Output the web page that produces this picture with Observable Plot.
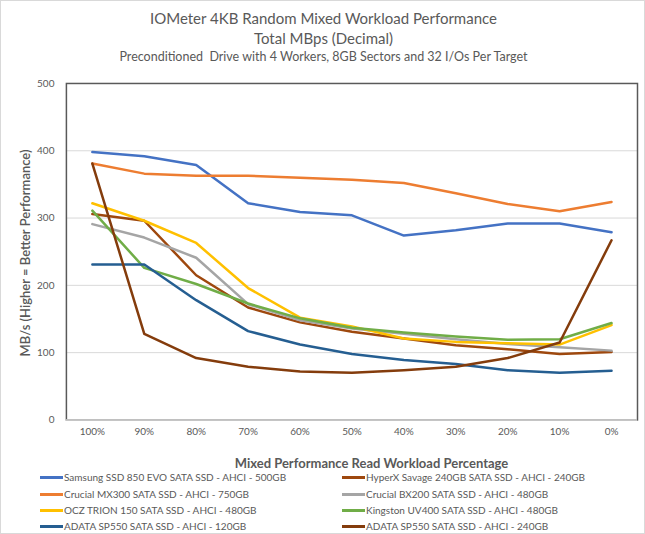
<!DOCTYPE html>
<html>
<head>
<meta charset="utf-8">
<script src="https://cdn.jsdelivr.net/npm/d3@7"></script>
<script src="https://cdn.jsdelivr.net/npm/@observablehq/plot@0.6"></script>
<style>
  html, body { margin: 0; padding: 0; background: #fff; }
  #chart { position: relative; width: 645px; height: 534px; box-sizing: border-box; border: 1px solid #D9D9D9; font-family: Lato, "Open Sans", sans-serif; color: #595959; overflow: hidden; }
  .t { position: absolute; left: 0; width: 645px; text-align: center; white-space: nowrap; }
  #plot { position: absolute; left: -1px; top: 65px; }
  .lg { position: absolute; font-size: 10px; white-space: nowrap; line-height: 12px; }
  .sw { position: absolute; height: 3px; width: 23px; }
  #ytitle { position: absolute; left: 24px; top: 252px; transform: translate(-50%, -50%) rotate(-90deg); font-size: 13px; font-weight: 600; white-space: nowrap; }
</style>
</head>
<body>
<div id="chart">
  <div class="t" style="top:8px; font-size:15px;">IOMeter 4KB Random Mixed Workload Performance</div>
  <div class="t" style="top:28px; font-size:15px;">Total MBps (Decimal)</div>
  <div class="t" style="top:48px; font-size:12.5px;">Preconditioned&nbsp; Drive with 4 Workers, 8GB Sectors and 32 I/Os Per Target</div>
  <div id="ytitle">MB/s (Higher = Better Performance)</div>
  <div id="plot"></div>
  <div class="t" style="top:454px; left:48px; font-size:13px; font-weight:700;">Mixed Performance Read Workload Percentage</div>
  <div id="legend"></div>
</div>
<script>
const categories = ["100%", "90%", "80%", "70%", "60%", "50%", "40%", "30%", "20%", "10%", "0%"];
const yTicks = [0, 100, 200, 300, 400, 500];

const seriesNames = [
  "Samsung SSD 850 EVO SATA SSD - AHCI - 500GB",
  "HyperX Savage 240GB SATA SSD - AHCI - 240GB",
  "Crucial MX300 SATA SSD - AHCI - 750GB",
  "Crucial BX200 SATA SSD - AHCI - 480GB",
  "OCZ TRION 150 SATA SSD - AHCI - 480GB",
  "Kingston UV400 SATA SSD - AHCI - 480GB",
  "ADATA SP550 SATA SSD - AHCI - 120GB",
  "ADATA SP550 SATA SSD - AHCI - 240GB"
];
const seriesColors = ["#4472C4", "#9E480E", "#ED7D31", "#A5A5A5", "#FFC000", "#70AD47", "#255E91", "#843C0C"];

const samsung850 = [398, 392, 379, 322, 309, 304, 274, 282, 292, 292, 279];
const hyperxSavage = [306, 296, 215, 167, 145, 131, 121, 111, 105, 98, 101];
const crucialMX300 = [381, 366, 363, 363, 360, 357, 352, 337, 321, 310, 324];
const crucialBX200 = [291, 271, 241, 172, 148, 136, 128, 120, 113, 108, 103];
const oczTrion150 = [322, 296, 263, 196, 152, 139, 121, 116, 114, 112, 141];
const kingstonUV400 = [311, 226, 202, 173, 151, 137, 130, 124, 119, 120, 144];
const adata120 = [231, 231, 178, 132, 112, 98, 89, 83, 74, 70, 73];
const adata240 = [381, 128, 92, 79, 72, 70, 74, 79, 92, 115, 267];

const seriesValues = [samsung850, hyperxSavage, crucialMX300, crucialBX200, oczTrion150, kingstonUV400, adata120, adata240];

const data = [];
seriesNames.forEach((name, i) => {
  seriesValues[i].forEach((v, j) => data.push({series: name, cat: categories[j], value: v}));
});

const chart = Plot.plot({
  width: 645,
  height: 405,
  marginTop: 17,
  marginBottom: 51,
  marginLeft: 66,
  marginRight: 7,
  style: {fontFamily: "Lato, 'Open Sans', sans-serif", fontSize: "10px", color: "#595959", background: "transparent", overflow: "visible"},
  x: {type: "point", domain: categories, padding: 0.5, label: null, tickSize: 0, tickPadding: 8},
  y: {domain: [0, 500], ticks: yTicks, label: null, tickSize: 0, tickPadding: 12},
  color: {domain: seriesNames, range: seriesColors},
  marks: [
    Plot.ruleY([100, 200, 300, 400], {stroke: "#D9D9D9", strokeWidth: 1}),
    Plot.frame({stroke: "#595959", strokeWidth: 1.5}),
    Plot.ruleY([0], {stroke: "#D9D9D9", strokeWidth: 1.5}),
    Plot.line(data, {x: "cat", y: "value", z: "series", stroke: "series", strokeWidth: 2.5, strokeLinejoin: "round", strokeLinecap: "round"})
  ]
});
document.getElementById("plot").appendChild(chart);

const legend = document.getElementById("legend");
const rowsY = [477, 494, 510, 526];
const colX = [39, 341];
seriesNames.forEach((name, i) => {
  const col = i % 2, row = Math.floor(i / 2);
  const sw = document.createElement("div");
  sw.className = "sw";
  sw.style.left = colX[col] + "px";
  sw.style.top = (rowsY[row] - 1.5 - 1) + "px";
  sw.style.background = seriesColors[i];
  legend.appendChild(sw);
  const tx = document.createElement("div");
  tx.className = "lg";
  tx.style.left = (colX[col] + 24) + "px";
  tx.style.top = (rowsY[row] - 6 - 1) + "px";
  tx.textContent = name;
  legend.appendChild(tx);
});
</script>
</body>
</html>
